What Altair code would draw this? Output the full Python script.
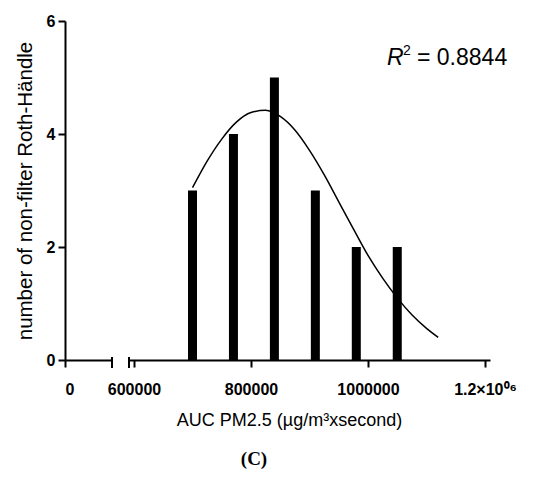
import altair as alt
import pandas as pd

# Histogram bars (bin centres, counts)
bin_centers = [700000, 770000, 840000, 910000, 980000, 1050000]
counts = [3, 4, 5, 3, 2, 2]

# Fitted Gaussian curve
curve_x = [700000, 725000, 750000, 775000, 800000, 825000, 850000, 875000, 900000,
           925000, 950000, 975000, 1000000, 1025000, 1050000, 1075000, 1100000, 1120000]
curve_y = [3.05, 3.52, 3.91, 4.21, 4.38, 4.42, 4.31, 4.07, 3.71,
           3.28, 2.80, 2.32, 1.85, 1.45, 1.10, 0.80, 0.56, 0.40]

y_ticks = [0, 2, 4, 6]
x_ticks_right = [600000, 800000, 1000000, 1200000]
x_ticks_left = [0]

y_title = "number of non-filter Roth-Händle"
x_title = "AUC PM2.5 (µg/m³xsecond)"
r2_value = "= 0.8844"
panel_label = "(C)"

FONT = "Liberation Sans"
H = 339
WL = 47
WR = 361

bars_df = pd.DataFrame({"x": bin_centers, "y": counts})
curve_df = pd.DataFrame({"x": curve_x, "y": curve_y})
one_df = pd.DataFrame({"x": [0], "y": [0]})

axis_lines = dict(
    domainColor="black", domainWidth=2, tickColor="black", tickWidth=2,
    tickSize=7, labelFont=FONT, labelFontWeight="bold", labelFontSize=16,
    labelColor="black", grid=False,
)
axis_titles = dict(titleFont=FONT, titleFontWeight="normal", titleColor="black")

yscale = alt.Scale(domain=[0, 6], nice=False, zero=True)

# Left panel (0 ... break)
left_base = alt.Chart(one_df).mark_point(opacity=0).encode(
    x=alt.X("x:Q", scale=alt.Scale(domain=[0, 100000], nice=False),
            axis=alt.Axis(values=x_ticks_left, title=None, labelPadding=14, **axis_lines)),
    y=alt.Y("y:Q", scale=yscale,
            axis=alt.Axis(values=y_ticks, title=y_title, labelPadding=3, titlePadding=11,
                          titleFontSize=20.5, **axis_lines, **axis_titles)),
)
left_cap = alt.Chart(one_df).mark_rule(color="black", strokeWidth=2).encode(
    x=alt.value(WL), y=alt.value(H - 3), y2=alt.value(H + 8)
)
left = alt.layer(left_base, left_cap).properties(width=WL, height=H)

# Right panel
xr = alt.Scale(domain=[600000, 1200000], nice=False, zero=False)
bars = alt.Chart(bars_df).mark_bar(color="black", size=9).encode(
    x=alt.X("x:Q", scale=xr,
            axis=alt.Axis(values=x_ticks_right, title=x_title, titleX=160, titlePadding=14,
                          titleFontSize=18, labelPadding=14,
                          labelExpr="datum.value == 1200000 ? '1.2×10⁰⁶' : format(datum.value, 'd')",
                          **axis_lines, **axis_titles)),
    y=alt.Y("y:Q", scale=yscale, axis=None),
)
line = alt.Chart(curve_df).mark_line(color="black", strokeWidth=1.5, interpolate="monotone").encode(
    x=alt.X("x:Q", scale=xr), y=alt.Y("y:Q", scale=yscale)
)
right_cap = alt.Chart(one_df).mark_rule(color="black", strokeWidth=2).encode(
    x=alt.value(0), y=alt.value(H - 3), y2=alt.value(H + 8)
)
r_text = alt.Chart(one_df).mark_text(text="R", font=FONT, fontSize=23, fontStyle="italic",
                                      align="left", baseline="alphabetic", color="black").encode(
    x=alt.value(258), y=alt.value(44))
sup_text = alt.Chart(one_df).mark_text(text="2", font=FONT, fontSize=14,
                                        align="left", baseline="alphabetic", color="black").encode(
    x=alt.value(274), y=alt.value(34))
eq_text = alt.Chart(one_df).mark_text(text=r2_value, font=FONT, fontSize=23,
                                       align="left", baseline="alphabetic", color="black").encode(
    x=alt.value(288), y=alt.value(44))
c_text = alt.Chart(one_df).mark_text(text=panel_label, font="Liberation Serif", fontSize=19,
                                      fontWeight="bold", align="center", baseline="middle",
                                      color="black").encode(
    x=alt.value(125), y=alt.value(438))
right = alt.layer(bars, line, right_cap, r_text, sup_text, eq_text, c_text).properties(width=WR, height=H)

chart = alt.hconcat(left, right, spacing=17, bounds="flush").properties(
    padding={"left": 7, "top": 5, "right": 0, "bottom": 0},
    background="white",
).configure_view(stroke="transparent", strokeWidth=0)

chart.save("out.html", embed_options={"renderer": "svg", "actions": False})
